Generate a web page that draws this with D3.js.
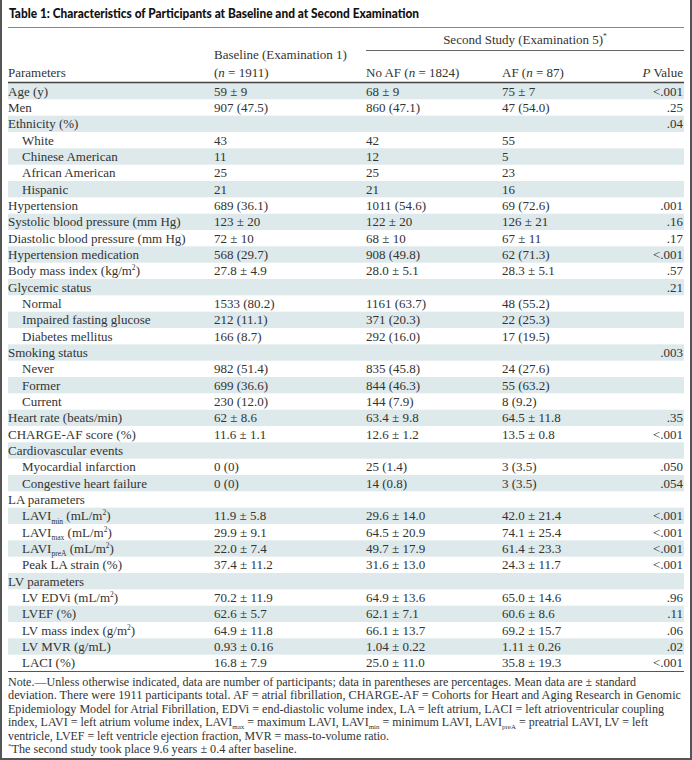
<!DOCTYPE html>
<html>
<head>
<meta charset="utf-8">
<script src="https://cdn.jsdelivr.net/npm/d3@7"></script>
<style>
  body { margin: 0; background: #fff; }
  text { font-family: "Liberation Serif", serif; fill: #333; }
</style>
</head>
<body>
<div id="table"></div>
<script>
// Table size
var width = 692;
var height = 760;

// Table content
var title = "Table 1: Characteristics of Participants at Baseline and at Second Examination";

var params = ["Age (y)", "Men", "Ethnicity (%)", "White", "Chinese American", "African American", "Hispanic",
  "Hypertension", "Systolic blood pressure (mm Hg)", "Diastolic blood pressure (mm Hg)", "Hypertension medication",
  "Body mass index (kg/m^{2})", "Glycemic status", "Normal", "Impaired fasting glucose", "Diabetes mellitus",
  "Smoking status", "Never", "Former", "Current", "Heart rate (beats/min)", "CHARGE-AF score (%)",
  "Cardiovascular events", "Myocardial infarction", "Congestive heart failure", "LA parameters",
  "LAVI_{min} (mL/m^{2})", "LAVI_{max} (mL/m^{2})", "LAVI_{preA} (mL/m^{2})", "Peak LA strain (%)",
  "LV parameters", "LV EDVi (mL/m^{2})", "LVEF (%)", "LV mass index (g/m^{2})", "LV MVR (g/mL)", "LACI (%)"];

var subItems = ["White", "Chinese American", "African American", "Hispanic", "Normal", "Impaired fasting glucose",
  "Diabetes mellitus", "Never", "Former", "Current", "Myocardial infarction", "Congestive heart failure",
  "LAVI_{min} (mL/m^{2})", "LAVI_{max} (mL/m^{2})", "LAVI_{preA} (mL/m^{2})", "Peak LA strain (%)",
  "LV EDVi (mL/m^{2})", "LVEF (%)", "LV mass index (g/m^{2})", "LV MVR (g/mL)", "LACI (%)"];

var baseline = ["59 ± 9", "907 (47.5)", "", "43", "11", "25", "21", "689 (36.1)", "123 ± 20", "72 ± 10",
  "568 (29.7)", "27.8 ± 4.9", "", "1533 (80.2)", "212 (11.1)", "166 (8.7)", "", "982 (51.4)", "699 (36.6)",
  "230 (12.0)", "62 ± 8.6", "11.6 ± 1.1", "", "0 (0)", "0 (0)", "", "11.9 ± 5.8", "29.9 ± 9.1", "22.0 ± 7.4",
  "37.4 ± 11.2", "", "70.2 ± 11.9", "62.6 ± 5.7", "64.9 ± 11.8", "0.93 ± 0.16", "16.8 ± 7.9"];

var noAF = ["68 ± 9", "860 (47.1)", "", "42", "12", "25", "21", "1011 (54.6)", "122 ± 20", "68 ± 10",
  "908 (49.8)", "28.0 ± 5.1", "", "1161 (63.7)", "371 (20.3)", "292 (16.0)", "", "835 (45.8)", "844 (46.3)",
  "144 (7.9)", "63.4 ± 9.8", "12.6 ± 1.2", "", "25 (1.4)", "14 (0.8)", "", "29.6 ± 14.0", "64.5 ± 20.9",
  "49.7 ± 17.9", "31.6 ± 13.0", "", "64.9 ± 13.6", "62.1 ± 7.1", "66.1 ± 13.7", "1.04 ± 0.22", "25.0 ± 11.0"];

var withAF = ["75 ± 7", "47 (54.0)", "", "55", "5", "23", "16", "69 (72.6)", "126 ± 21", "67 ± 11",
  "62 (71.3)", "28.3 ± 5.1", "", "48 (55.2)", "22 (25.3)", "17 (19.5)", "", "24 (27.6)", "55 (63.2)",
  "8 (9.2)", "64.5 ± 11.8", "13.5 ± 0.8", "", "3 (3.5)", "3 (3.5)", "", "42.0 ± 21.4", "74.1 ± 25.4",
  "61.4 ± 23.3", "24.3 ± 11.7", "", "65.0 ± 14.6", "60.6 ± 8.6", "69.2 ± 15.7", "1.11 ± 0.26", "35.8 ± 19.3"];

var pValues = ["<.001", ".25", ".04", "", "", "", "", ".001", ".16", ".17", "<.001", ".57", ".21", "", "", "",
  ".003", "", "", "", ".35", "<.001", "", ".050", ".054", "", "<.001", "<.001", "<.001", "<.001", "",
  ".96", ".11", ".06", ".02", "<.001"];

var noteLines = [
  "Note.—Unless otherwise indicated, data are number of participants; data in parentheses are percentages. Mean data are ± standard",
  "deviation. There were 1911 participants total. AF = atrial fibrillation, CHARGE-AF = Cohorts for Heart and Aging Research in Genomic",
  "Epidemiology Model for Atrial Fibrillation, EDVi = end-diastolic volume index, LA = left atrium, LACI = left atrioventricular coupling",
  "index, LAVI = left atrium volume index, LAVI_{max} = maximum LAVI, LAVI_{min} = minimum LAVI, LAVI_{preA} = preatrial LAVI, LV = left",
  "ventricle, LVEF = left ventricle ejection fraction, MVR = mass-to-volume ratio."
];
// printed width of each note line
var noteWidths = [628, 673, 656, 640, 381];
var footnote = "^{*}The second study took place 9.6 years ± 0.4 after baseline.";

// Layout
var left = 8, right = 684;
var tableTop = 83, tableBottom = 671;
var shade = "#dde9eb";

var svg = d3.select("#table")
    .append("svg")
    .attr("width", width)
    .attr("height", height);

// Row scale
var y = d3.scaleBand()
    .domain(d3.range(params.length))
    .range([tableTop, tableBottom]);

// Column positions
var x = d3.scaleOrdinal()
    .domain(["param", "base", "noaf", "af", "p"])
    .range([left, 214, 366, 502, 683]);

// Writes a string with _{sub}, ^{sup} and *italic* markup as tspans
function richText(sel, str, size) {
    var parts = str.split(/(_\{[^}]*\}|\^\{[^}]*\}|\*[^*]+\*)/);
    var shift = 0;
    parts.forEach(function(p) {
        if (!p) return;
        var t;
        if (p[0] === "_" || p[0] === "^") {
            var s = p[0] === "_" ? size * 0.25 : -size * 0.38;
            t = sel.append("tspan").attr("font-size", size * 0.58).attr("dy", s - shift).text(p.slice(2, -1));
            shift = s;
            return;
        }
        if (p[0] === "*") {
            t = sel.append("tspan").attr("font-style", "italic").text(p.slice(1, -1));
        } else {
            t = sel.append("tspan").text(p);
        }
        if (shift) { t.attr("dy", -shift); shift = 0; }
    });
}

// Frame
svg.append("path")
    .attr("d", "M1,0 V759 H691 V0")
    .attr("fill", "none")
    .attr("stroke", "#555")
    .attr("stroke-width", 2);

// Title
svg.append("text")
    .attr("x", 9)
    .attr("y", 18)
    .attr("textLength", 410)
    .attr("lengthAdjust", "spacingAndGlyphs")
    .style("font-family", "Lato, 'DejaVu Sans', sans-serif")
    .style("font-weight", "900")
    .style("font-size", "12.5px")
    .style("fill", "#111")
    .text(title);

svg.append("line")
    .attr("x1", left).attr("x2", right)
    .attr("y1", 27.5).attr("y2", 27.5)
    .attr("stroke", "#888").attr("stroke-width", 1);

// Header
var fs = 13;
svg.append("text")
    .attr("x", (366 + right) / 2)
    .attr("y", 44)
    .attr("text-anchor", "middle")
    .style("font-size", fs + "px")
    .call(richText, "Second Study (Examination 5)^{*}", fs);

svg.append("line")
    .attr("x1", 366).attr("x2", right)
    .attr("y1", 50.5).attr("y2", 50.5)
    .attr("stroke", "#666").attr("stroke-width", 1);

var headers = [
    { col: "base", y: 59, t: "Baseline (Examination 1)" },
    { col: "base", y: 77, t: "(*n* = 1911)" },
    { col: "param", y: 77, t: "Parameters" },
    { col: "noaf", y: 77, t: "No AF (*n* = 1824)" },
    { col: "af", y: 77, t: "AF (*n* = 87)" },
    { col: "p", y: 77, t: "*P* Value" }
];
headers.forEach(function(h) {
    svg.append("text")
        .attr("x", x(h.col))
        .attr("y", h.y)
        .attr("text-anchor", h.col === "p" ? "end" : "start")
        .style("font-size", fs + "px")
        .call(richText, h.t, fs);
});

// Row shading
svg.selectAll("rect.shade")
    .data(d3.range(params.length).filter(function(i) { return i % 2 === 0; }))
    .enter().append("rect")
    .attr("class", "shade")
    .attr("x", left)
    .attr("width", right - left)
    .attr("y", function(i) { return y(i); })
    .attr("height", y.bandwidth())
    .attr("fill", shade);

// Header rule and bottom rule
svg.append("line")
    .attr("x1", left).attr("x2", right)
    .attr("y1", tableTop - 0.5).attr("y2", tableTop - 0.5)
    .attr("stroke", "#444").attr("stroke-width", 1.5);

svg.append("line")
    .attr("x1", left).attr("x2", right)
    .attr("y1", tableBottom + 0.5).attr("y2", tableBottom + 0.5)
    .attr("stroke", "#555").attr("stroke-width", 1);

// Cells: one text per non-empty value
var rowY = function(i) { return y(i) + y.bandwidth() / 2 + 4.5; };

params.forEach(function(p, i) {
    svg.append("text")
        .attr("x", subItems.indexOf(p) >= 0 ? left + 14 : left)
        .attr("y", rowY(i))
        .style("font-size", fs + "px")
        .call(richText, p, fs);
});

[["base", baseline], ["noaf", noAF], ["af", withAF], ["p", pValues]].forEach(function(c) {
    svg.selectAll("text.col-" + c[0])
        .data(c[1].map(function(v, i) { return { v: v, i: i }; }).filter(function(d) { return d.v !== ""; }))
        .enter().append("text")
        .attr("class", "col-" + c[0])
        .attr("x", x(c[0]))
        .attr("y", function(d) { return rowY(d.i); })
        .attr("text-anchor", c[0] === "p" ? "end" : "start")
        .style("font-size", fs + "px")
        .text(function(d) { return d.v; });
});

// Notes
var nfs = 12.2;
noteLines.forEach(function(line, i) {
    svg.append("text")
        .attr("x", left)
        .attr("y", 686 + i * 13.4)
        .attr("textLength", noteWidths[i])
        .attr("lengthAdjust", "spacingAndGlyphs")
        .style("font-size", nfs + "px")
        .call(richText, line, nfs);
});

svg.append("text")
    .attr("x", left)
    .attr("y", 753)
    .style("font-size", nfs + "px")
    .call(richText, footnote, nfs);
</script>
</body>
</html>
